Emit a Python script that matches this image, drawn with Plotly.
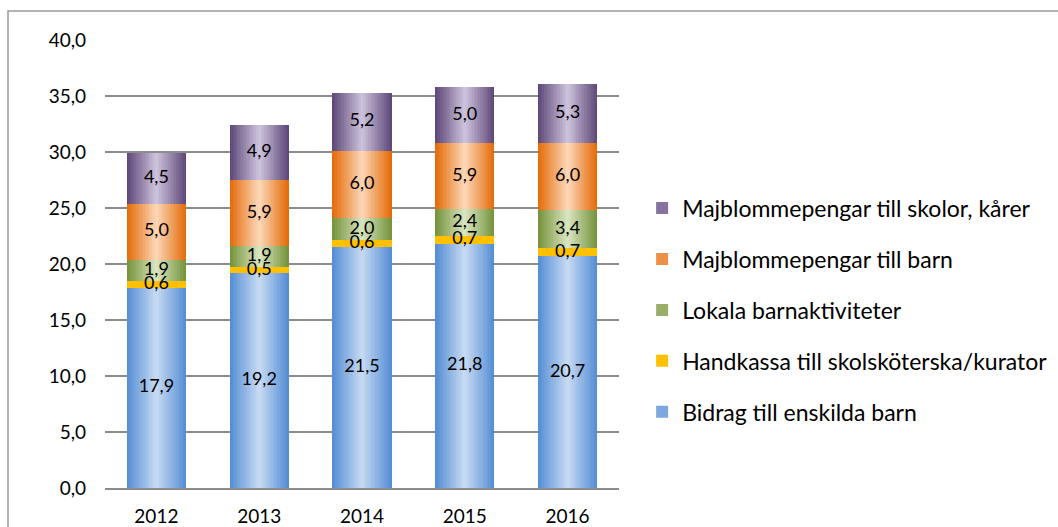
import plotly.graph_objects as go

years = ["2012", "2013", "2014", "2015", "2016"]
bidrag = [17.9, 19.2, 21.5, 21.8, 20.7]
handkassa = [0.6, 0.5, 0.6, 0.7, 0.7]
lokala = [1.9, 1.9, 2.0, 2.4, 3.4]
majb_barn = [5.0, 5.9, 6.0, 5.9, 6.0]
majb_skolor = [4.5, 4.9, 5.2, 5.0, 5.3]

series_names = [
    "Bidrag till enskilda barn",
    "Handkassa till skolsköterska/kurator",
    "Lokala barnaktiviteter",
    "Majblommepengar till barn",
    "Majblommepengar till skolor, kårer",
]
series_values = [bidrag, handkassa, lokala, majb_barn, majb_skolor]
# (edge colour, centre colour) for horizontal gradient
series_colors = [
    ("#558ED5", "#C6D9F1"),
    ("#FFC000", "#FFC000"),
    ("#77933C", "#D7E4BD"),
    ("#E46C0A", "#FCD5B5"),
    ("#5F497A", "#CCC1DA"),
]

FONT = "Lato"
BAR_W = 0.576
K = 20


def hex2rgb(h):
    h = h.lstrip("#")
    return tuple(int(h[i:i + 2], 16) for i in (0, 2, 4))


def lerp(c1, c2, t):
    a, b = hex2rgb(c1), hex2rgb(c2)
    return "rgb(%d,%d,%d)" % tuple(round(a[i] + (b[i] - a[i]) * t) for i in range(3))


fig = go.Figure()

bases = [0.0] * len(years)
for name, vals, (edge, centre) in zip(series_names, series_values, series_colors):
    base = list(bases)
    for i in range(K):
        t = i / (K - 1)
        fig.add_trace(go.Bar(
            x=years, y=vals, base=base,
            width=BAR_W * (K - i) / K,
            marker=dict(color=lerp(edge, centre, t), line=dict(width=0)),
            showlegend=False, hoverinfo="skip",
        ))
    bases = [b + v for b, v in zip(bases, vals)]

# data labels
bases = [0.0] * len(years)
for vals in series_values:
    fig.add_trace(go.Scatter(
        x=years, y=[b + v / 2 for b, v in zip(bases, vals)],
        mode="text",
        text=[f"{v:.1f}".replace(".", ",") for v in vals],
        textfont=dict(family=FONT, size=18, color="#000000"),
        textposition="middle center",
        showlegend=False, hoverinfo="skip", cliponaxis=False,
    ))
    bases = [b + v for b, v in zip(bases, vals)]

# legend entries (top entry = last series)
for name, (edge, centre) in reversed(list(zip(series_names, series_colors))):
    fig.add_trace(go.Bar(
        x=years, y=[None] * len(years), name=name, legendgroup=name,
        marker=dict(color=lerp(edge, centre, 0.35), line=dict(width=0)),
        showlegend=True,
    ))

fig.update_layout(
    width=1058, height=527,
    barmode="overlay",
    bargap=0,
    plot_bgcolor="white", paper_bgcolor="white",
    margin=dict(l=105, r=439, t=40, b=39, autoexpand=False),
    font=dict(family=FONT, size=18, color="#000000"),
    separators=", ",
    legend=dict(
        x=1.045, y=0.397, xanchor="left", yanchor="middle",
        traceorder="grouped", tracegroupgap=18,
        font=dict(family=FONT, size=23, color="#000000"),
        itemwidth=30,
        bgcolor="rgba(0,0,0,0)",
    ),
    shapes=[dict(
        type="rect", xref="paper", yref="paper",
        x0=(8 - 105) / 514, x1=3, y0=-0.5, y1=(488 - 11) / 448,
        line=dict(color="#9A9A9A", width=1.5), fillcolor="rgba(0,0,0,0)",
        layer="below",
    )],
)
fig.update_yaxes(
    range=[0, 40], dtick=5, tickformat=".1f", automargin=False,
    showgrid=True, gridcolor="#8C8C8C", gridwidth=1.5,
    zeroline=False, showline=False,
    ticks="", ticklabelstandoff=18,
    tickfont=dict(family=FONT, size=19, color="#000000"),
)
fig.update_xaxes(
    type="category", automargin=False,
    showline=True, linecolor="#8C8C8C", linewidth=1.5,
    showgrid=False, ticks="", ticklabelstandoff=10,
    tickfont=dict(family=FONT, size=19, color="#000000"),
)

fig.write_html(
    "out.html",
    config={"displayModeBar": False},
    post_script="document.body.style.margin='0';",
)
